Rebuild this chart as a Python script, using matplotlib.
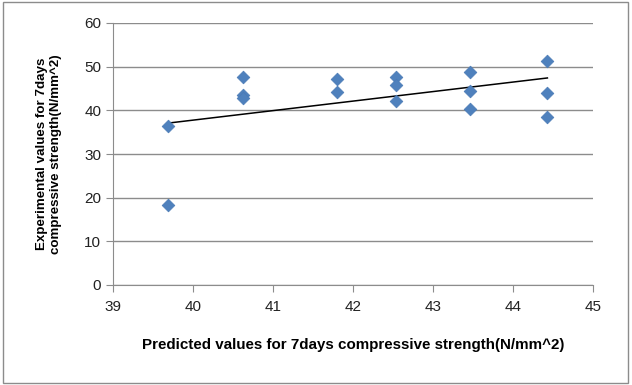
import numpy as np
import matplotlib
matplotlib.use("Agg")
import matplotlib.pyplot as plt
from matplotlib.patches import Rectangle

# 预测值与实验值
predicted = [39.69, 39.69, 40.63, 40.63, 40.63, 41.80, 41.80, 42.54, 42.54, 42.54,
             43.46, 43.46, 43.46, 44.43, 44.43, 44.43]
experimental = [36.4, 18.3, 47.6, 43.5, 42.8, 47.1, 44.3, 47.6, 45.8, 42.1,
                48.8, 44.5, 40.2, 51.4, 44.0, 38.5]
x_ticks = [39, 40, 41, 42, 43, 44, 45]
y_ticks = [0, 10, 20, 30, 40, 50, 60]

plt.rcParams["font.family"] = ["Liberation Sans", "DejaVu Sans"]

fig = plt.figure(figsize=(6.32, 3.85), dpi=100)
ax = fig.add_axes([113 / 632, 1 - 285 / 385, 480 / 632, 262 / 385])

# 外框
fig.patches.append(Rectangle((0.004, 0.006), 0.99, 0.988, transform=fig.transFigure,
                             fill=False, edgecolor="#8c8c8c", linewidth=1))

ax.scatter(predicted, experimental, marker="D", s=42, color="#4f81bd", zorder=3,
           edgecolors="#4a7ab5", linewidths=0.5)

# 线性趋势线
k, b = np.polyfit(predicted, experimental, 1)
xs = np.array([min(predicted), max(predicted)])
ax.plot(xs, k * xs + b, color="black", linewidth=1.1, zorder=2)

ax.set_xlim(39, 45)
ax.set_ylim(0, 60)
ax.set_xticks(x_ticks)
ax.set_yticks(y_ticks)
ax.grid(axis="y", color="#8c8c8c", linewidth=1)
ax.set_axisbelow(True)
for s in ["top", "right"]:
    ax.spines[s].set_visible(False)
for s in ["left", "bottom"]:
    ax.spines[s].set_color("#8c8c8c")
ax.tick_params(direction="out", length=5, color="#8c8c8c", labelsize=11,
               labelcolor="#222222")
ax.tick_params(axis="x", pad=6)

ax.set_xlabel("Predicted values for 7days compressive strength(N/mm^2)",
              fontsize=10.9, fontweight="bold", labelpad=17)
ax.set_ylabel("Experimental values for 7days\ncompressive strength(N/mm^2)",
              fontsize=9.6, fontweight="bold", labelpad=16)

fig.savefig("out.png", dpi=100)
